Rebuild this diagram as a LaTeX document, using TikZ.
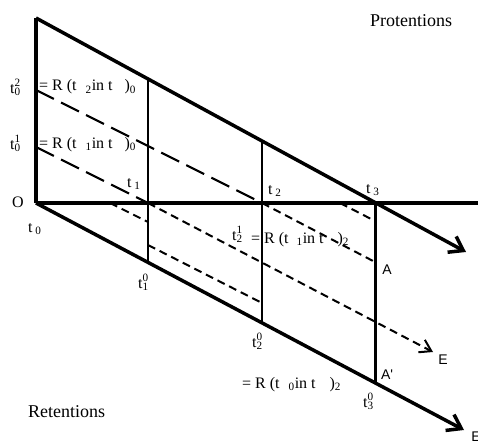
\documentclass[tikz,border=0pt]{standalone}
\usepackage{fontspec}
\setmainfont{Liberation Serif}
\newfontfamily\sansf{Liberation Sans}
\usetikzlibrary{arrows.meta}
\begin{document}
\begin{tikzpicture}[x=1pt,y=-1pt,
  thickline/.style={line width=3.5pt},
  vline/.style={line width=2.2pt},
  vthick/.style={line width=3pt},
  longdash/.style={line width=2.2pt, dash pattern=on 20pt off 8pt},
  shortdash/.style={line width=2pt, dash pattern=on 8pt off 5pt},
  lbl/.style={font=\fontsize{16}{16}\selectfont, inner sep=0pt},
  big/.style={font=\fontsize{18}{18}\selectfont, inner sep=0pt},
  sanslbl/.style={font=\sansf\fontsize{14}{14}\selectfont, inner sep=0pt},
  bigarr/.style={-{Straight Barb[length=13pt,width=18pt]}},
  smallarr/.style={-{Straight Barb[length=11pt,width=14pt]}},
]
\useasboundingbox (0,0) rectangle (478,441);
% key points
\coordinate (top) at (36,18);
\coordinate (t02) at (36,90);
\coordinate (t01) at (36,147);
\coordinate (O) at (36,203);
\coordinate (t1) at (148,203);
\coordinate (t2) at (262,203);
\coordinate (t3) at (375,203);
\coordinate (t1u) at (148,79);
\coordinate (t2u) at (262,141);
\coordinate (t10) at (148,262);
\coordinate (t20) at (262,322);
\coordinate (t30) at (375,383);
\coordinate (Ptip) at (466,252);
\coordinate (Btip) at (464,430);
\coordinate (Hend) at (478,203);
\coordinate (Etip) at (433,352);
\coordinate (Ap) at (375,262);
\coordinate (s1a) at (110,203);
\coordinate (s1b) at (148,222);
\coordinate (s2a) at (340,203);
\coordinate (s2b) at (375,221);
\coordinate (s3a) at (148,245);
\coordinate (s3b) at (262,303);

% dashed lines
\draw[longdash] (t02) -- (t2);
\draw[longdash] (t01) -- (t1);
\draw[shortdash, smallarr] (t1) -- (Etip);
\draw[shortdash] (t2) -- (Ap);
\draw[shortdash] (s1a) -- (s1b);
\draw[shortdash] (s2a) -- (s2b);
\draw[shortdash] (s3a) -- (s3b);

% verticals
\draw[vline] (t1u) -- (t10);
\draw[vline] (t2u) -- (t20);
\draw[vthick] (t3) -- (t30);

% main lines
\draw[thickline] (O) -- (top);
\draw[thickline] (O) -- (Hend);
\draw[thickline, bigarr] (top) -- (Ptip);
\draw[thickline, bigarr] (O) -- (Btip);

% labels
\node[big, anchor=base west] (prot) at (370,27) {Protentions};
\node[big, anchor=base west] (ret) at (28,417) {Retentions};
\node[lbl] (lO) at (18,202) {O};
\node[lbl, anchor=base west] (lt0) at (28,232) {t\,\textsubscript{0}};
\node[lbl, anchor=base west] (lt02) at (10,93) {t\rlap{\textsuperscript{2}}\textsubscript{0}};
\node[lbl, anchor=base west] (lt01) at (10,149) {t\rlap{\textsuperscript{1}}\textsubscript{0}};
\node[lbl, anchor=base west] (r1) at (39,91) {= R (t\hspace{9pt}\textsubscript{2}in t\hspace{12pt})\textsubscript{0}};
\node[lbl, anchor=base west] (r2) at (39,148) {= R (t\hspace{9pt}\textsubscript{1}in t\hspace{12pt})\textsubscript{0}};
\node[lbl, anchor=base west] (lt1) at (127,187) {t\,\textsubscript{1}};
\node[lbl, anchor=base west] (lt2) at (268,194) {t\,\textsubscript{2}};
\node[lbl, anchor=base west] (lt3) at (366,193) {t\,\textsubscript{3}};
\node[lbl, anchor=base west] (lt10) at (138,288) {t\rlap{\textsuperscript{0}}\textsubscript{1}};
\node[lbl, anchor=base west] (lt20) at (252,347) {t\rlap{\textsuperscript{0}}\textsubscript{2}};
\node[lbl, anchor=base west] (lt30) at (363,407) {t\rlap{\textsuperscript{0}}\textsubscript{3}};
\node[lbl, anchor=base west] (lt21) at (232,240) {t\rlap{\textsuperscript{1}}\textsubscript{2}};
\node[lbl, anchor=base west] (r3) at (251,243) {= R (t\hspace{8pt}\textsubscript{1}in t\hspace{14pt})\textsubscript{2}};
\node[lbl, anchor=base west] (r4) at (242,388) {= R (t\hspace{9pt}\textsubscript{0}in t\hspace{14pt})\textsubscript{2}};
\node[sanslbl] (lA) at (387,270) {A};
\node[sanslbl] (lAp) at (387,375) {A'};
\node[sanslbl] (lE1) at (443,360) {E};
\node[sanslbl] (lE2) at (476,437) {E};
\end{tikzpicture}
\end{document}
